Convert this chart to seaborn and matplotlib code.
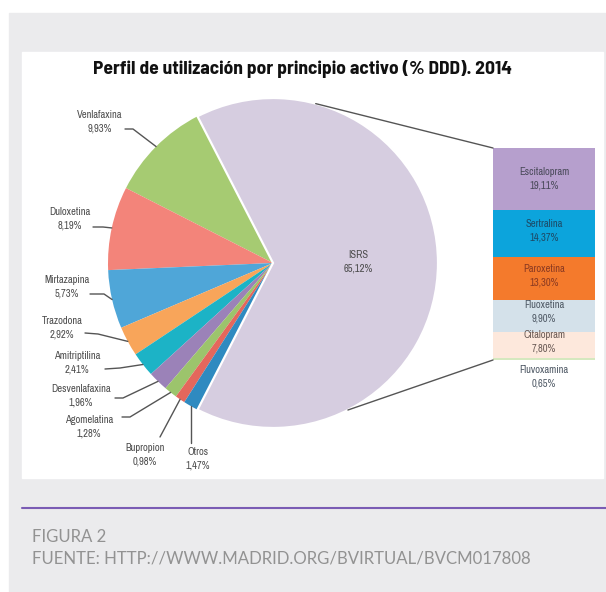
import numpy as np
import matplotlib
matplotlib.use('Agg')
import matplotlib.pyplot as plt
import seaborn as sns
from matplotlib.patches import Rectangle

sns.set_theme(style='white')
plt.rcParams['font.family'] = ['Archivo Narrow', 'DejaVu Sans']

# Datos: perfil por principio activo (% DDD) 2014
pie_labels = ['ISRS', 'Venlafaxina', 'Duloxetina', 'Mirtazapina', 'Trazodona',
              'Amitriptilina', 'Desvenlafaxina', 'Agomelatina', 'Bupropion', 'Otros']
pie_values = [65.12, 9.93, 8.19, 5.73, 2.92, 2.41, 1.96, 1.28, 0.98, 1.47]
pie_text = ['65,12%', '9,93%', '8,19%', '5,73%', '2,92%', '2,41%', '1,96%', '1,28%', '0,98%', '1,47%']
pie_colors = ['#d6cde0', '#a6cb72', '#f3847a', '#4fa6d8', '#f8a55a',
              '#1cb3c6', '#9b82b8', '#9cc46c', '#e4675c', '#2f8ac0']

# Desglose de ISRS
isrs_labels = ['Escitalopram', 'Sertralina', 'Paroxetina', 'Fluoxetina', 'Citalopram', 'Fluvoxamina']
isrs_values = [19.11, 14.37, 13.30, 9.90, 7.80, 0.65]
isrs_text = ['19,11%', '14,37%', '13,30%', '9,90%', '7,80%', '0,65%']
isrs_colors = ['#b69fcd', '#0ca4dc', '#f47a2c', '#d4e1ea', '#fde8dc', '#d5e8bf']
isrs_text_colors = ['#4a4a5a', '#1d4a66', '#8a3a22', '#505a66', '#6a5a55', '#505a66']

W, H = 606, 592
fig = plt.figure(figsize=(W / 100, H / 100), dpi=100)
fig.patch.set_facecolor('white')

# fondo en pixeles
ax0 = fig.add_axes([0, 0, 1, 1])
ax0.set_xlim(0, W)
ax0.set_ylim(H, 0)
ax0.axis('off')
ax0.add_patch(Rectangle((9, 13), W - 9, H - 13, color='#ebebed', zorder=0))
ax0.add_patch(Rectangle((22, 52), 581, 426, color='white', zorder=1))

# tarta
cx, cy, R = 273, 263, 165
axp = fig.add_axes([(cx - R) / W, 1 - (cy + R) / H, 2 * R / W, 2 * R / H])
wedges, _ = axp.pie(pie_values, colors=pie_colors, radius=1,
                    startangle=-360 * pie_values[0] / 100 / 2, counterclock=True,
                    wedgeprops=dict(linewidth=0))
wedges[0].set_edgecolor('white')
wedges[0].set_linewidth(1.6)
wedges[0].set_zorder(3)
axp.set_xlim(-1, 1)
axp.set_ylim(-1, 1)
axp.axis('off')

# barra de ISRS
bx0, by0, bw, bh = 493, 148, 102, 212
axb = fig.add_axes([bx0 / W, 1 - (by0 + bh) / H, bw / W, bh / H])
bottom = 0
for lab, v, c in zip(isrs_labels[::-1], isrs_values[::-1], isrs_colors[::-1]):
    axb.bar(0, v, width=1, bottom=bottom, color=c, linewidth=0)
    bottom += v
axb.set_xlim(-0.5, 0.5)
axb.set_ylim(0, sum(isrs_values))
axb.axis('off')

# capa de textos y lineas encima de todo
axt = fig.add_axes([0, 0, 1, 1])
axt.set_xlim(0, W)
axt.set_ylim(H, 0)
axt.axis('off')

axt.text(302, 69, 'Perfil de utilización por principio activo (% DDD). 2014',
         ha='center', va='center', fontsize=14, fontweight='bold',
         family=['Barlow Semi Condensed', 'DejaVu Sans'], color='#111111')


def edge_point(w, r=R):
    ang = np.deg2rad((w.theta1 + w.theta2) / 2)
    return cx + r * np.cos(ang), cy - r * np.sin(ang)


label_fs = 7.6
txt_col = '#4d4d4d'
line_col = '#555555'

axt.text(358, 262, pie_labels[0] + '\n' + pie_text[0], ha='center', va='center',
         fontsize=label_fs, color=txt_col, linespacing=1.45)

# posiciones de las etiquetas: (x texto, y texto, inicio de linea, codo)
label_pos = {
    'Venlafaxina': (100, 121.5, (125, 129), (133, 129)),
    'Duloxetina': (70, 219, (93, 227), (103, 227)),
    'Mirtazapina': (67, 287, (90, 294), (104, 294)),
    'Trazodona': (62, 328, (85, 333), (98, 334)),
    'Amitriptilina': (77, 363, (105, 369), (120, 368)),
    'Desvenlafaxina': (81, 395.5, (115, 398), (123, 398)),
    'Agomelatina': (89, 426.5, (122, 417), (130, 417)),
    'Bupropion': (145, 455, (160, 437), None),
    'Otros': (198, 458.5, None, None),
}

for w, name, val in zip(wedges[1:], pie_labels[1:], pie_text[1:]):
    tx, ty, start, elbow = label_pos[name]
    axt.text(tx, ty, name + '\n' + val, ha='center', va='center',
             fontsize=label_fs, color=txt_col, linespacing=1.45)
    ex, ey = edge_point(w)
    if start is None:
        xs, ys = [ex, ex], [443, ey]
    elif elbow is None:
        xs, ys = [start[0], ex], [start[1], ey]
    else:
        xs, ys = [start[0], elbow[0], ex], [start[1], elbow[1], ey]
    axt.plot(xs, ys, color=line_col, lw=1.0)

bar_label_y = [179, 231, 276, 311.5, 342, 377]
for lab, val, y, c in zip(isrs_labels, isrs_text, bar_label_y, isrs_text_colors):
    axt.text(544, y, lab + '\n' + val, ha='center', va='center',
             fontsize=label_fs, color=c, linespacing=1.45)

# lineas de conexion tarta -> barra
for ang, (bx, by) in [(75, (bx0, by0)), (-63, (bx0, by0 + bh))]:
    a = np.deg2rad(ang)
    axt.plot([cx + R * np.cos(a), bx], [cy - R * np.sin(a), by], color=line_col, lw=1.0)

# pie de figura
axt.plot([22, W], [508, 508], color='#7a5cb4', lw=1.5)
axt.text(32, 537, 'FIGURA 2', ha='left', va='center', fontsize=12.1,
         family=['Lato', 'DejaVu Sans'], color='#929292')
axt.text(32, 559, 'FUENTE: HTTP://WWW.MADRID.ORG/BVIRTUAL/BVCM017808', ha='left', va='center',
         fontsize=12.1, family=['Lato', 'DejaVu Sans'], color='#929292')

fig.savefig('out.png', dpi=100, facecolor=fig.get_facecolor())
